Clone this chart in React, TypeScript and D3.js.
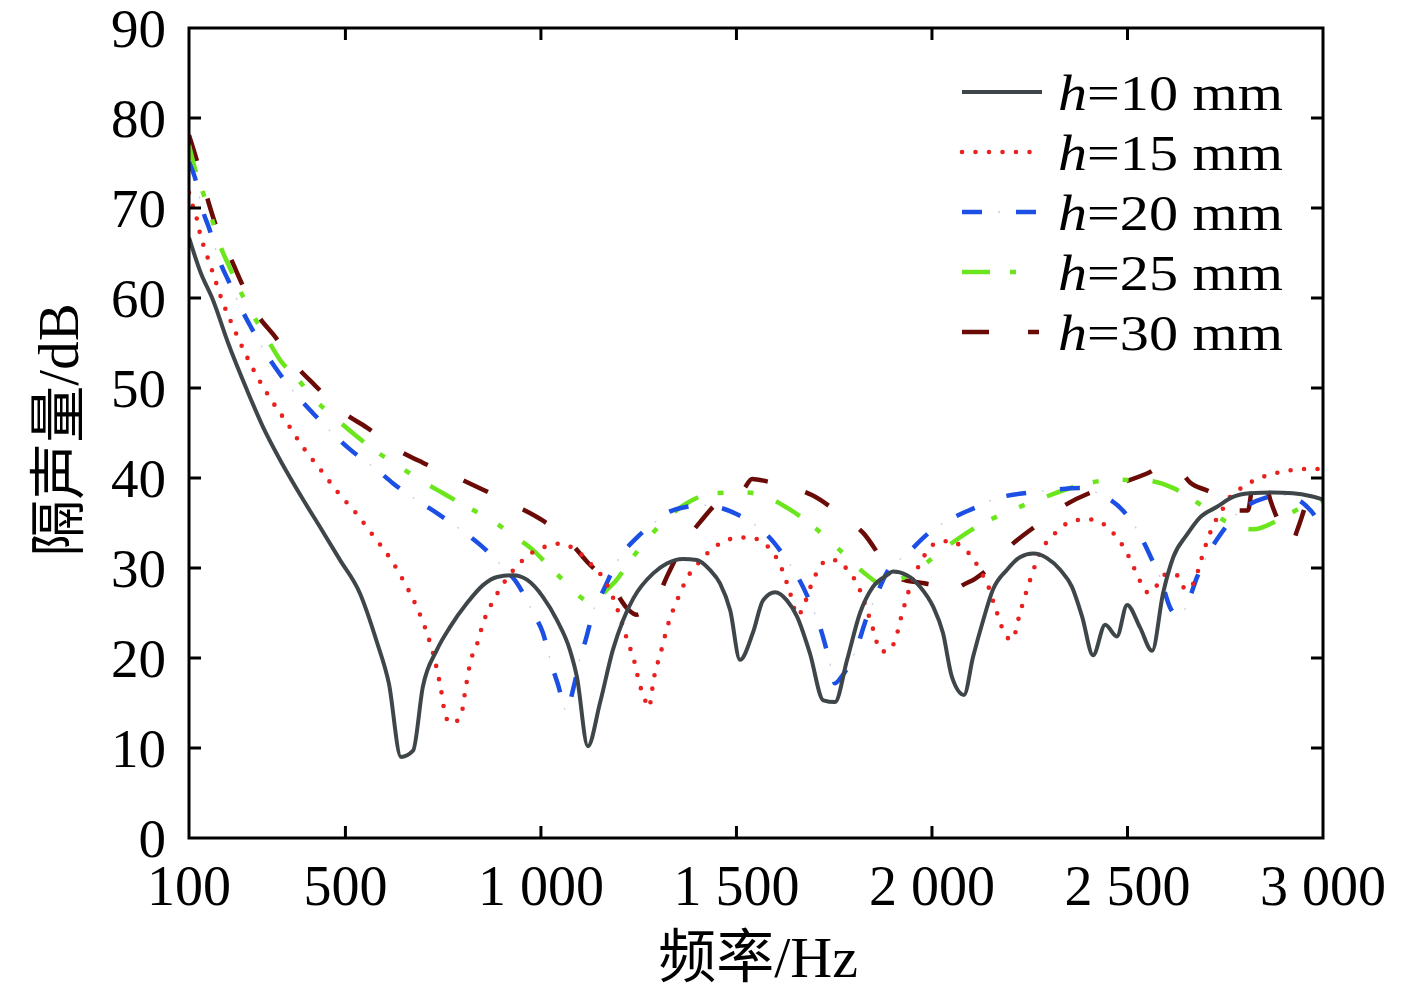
import React, { useEffect, useRef } from "react";
import * as d3 from "d3";

type Pt = [number, number];

// frequency (Hz), sound insulation (dB)
const h10: Pt[] = [
  [100, 66.7], [130, 62.8], [161, 59.8], [200, 55], [248, 49.8], [290, 45.6], [333, 42],
  [389, 37.8], [440, 34.2], [486, 30.9], [537, 27.2], [581, 21.7], [611, 17.2], [642, 9],
  [673, 9.7], [698, 16.8], [734, 20.9], [767, 23.4], [811, 26.1], [852, 28.1], [888, 29],
  [929, 29.2], [964, 28.7], [1005, 26.8], [1041, 24.2], [1074, 20.9], [1092, 17.9], [1120, 10.2],
  [1151, 15], [1184, 20.9], [1210, 24.2], [1236, 26.6], [1287, 29.4], [1322, 30.5], [1363, 31],
  [1399, 30.9], [1432, 29.8], [1458, 28.3], [1484, 25.3], [1509, 19.8], [1542, 22.8], [1568, 26.4],
  [1599, 27.3], [1629, 26.4], [1655, 24.6], [1688, 20.5], [1722, 15.3], [1752, 15.1], [1783, 19.8],
  [1816, 25], [1849, 27.9], [1885, 29.2], [1900, 29.6], [1936, 29.2], [1970, 27.9], [2003, 25.7],
  [2028, 22.8], [2051, 17.9], [2082, 15.9], [2105, 20.1], [2131, 24.2], [2156, 27.6], [2192, 29.8],
  [2225, 31.2], [2259, 31.6], [2294, 31.1], [2328, 29.8], [2358, 27.9], [2384, 24.6], [2412, 20.3],
  [2443, 23.7], [2473, 22.4], [2499, 25.9], [2532, 23.4], [2563, 20.8], [2591, 27.2], [2617, 31.2],
  [2652, 33.7], [2685, 35.6], [2729, 36.8], [2770, 37.9], [2813, 38.3], [2872, 38.4], [2923, 38.3],
  [2967, 38], [3000, 37.6],
];

const h15: Pt[] = [
  [100, 71.7], [110, 70.2], [120, 68.8], [128, 67.2], [138, 65.7], [150, 64.2], [161, 62.8],
  [184, 59.8], [212, 56.9], [241, 54.1], [274, 51.3], [310, 48.7], [351, 46.1], [392, 43.4],
  [435, 41], [481, 38.4], [527, 36.1], [571, 33.6], [614, 31.1], [652, 28.3], [683, 25.6],
  [709, 22.7], [729, 19.7], [744, 16.6], [757, 13.4], [773, 12.7], [796, 13.7], [808, 16.8],
  [821, 19.8], [834, 21.2], [854, 24.1], [885, 26.9], [903, 28.2], [947, 30.6], [977, 31.7],
  [1013, 32.4], [1049, 32.7], [1082, 32.2], [1133, 30.2], [1159, 28.9], [1190, 26.1], [1202, 24.6],
  [1223, 21.7], [1236, 20.1], [1253, 17], [1264, 15.6], [1276, 14.5], [1289, 17.8], [1307, 20.7],
  [1325, 23.7], [1351, 26.7], [1381, 29.4], [1404, 30.6], [1427, 31.7], [1461, 32.8], [1494, 33.3],
  [1530, 33.4], [1563, 33], [1588, 32], [1609, 30.6], [1634, 27.7], [1657, 24.7], [1670, 25.6],
  [1693, 28.3], [1709, 29.8], [1734, 30.9], [1762, 30.8], [1785, 29.7], [1808, 28.3], [1834, 25.3],
  [1855, 22.4], [1865, 20.9], [1885, 20.7], [1906, 22], [1924, 25], [1944, 27.9], [1957, 29.4],
  [1972, 30.7], [1990, 32], [2018, 32.9], [2051, 33], [2079, 32.2], [2105, 31.1], [2123, 29.7],
  [2141, 28.3], [2164, 25.3], [2190, 22.4], [2205, 22], [2225, 25], [2246, 28], [2269, 30.9],
  [2284, 32.3], [2305, 33.4], [2333, 34.6], [2366, 35.3], [2402, 35.4], [2438, 34.9], [2463, 33.9],
  [2486, 32.6], [2504, 31.2], [2519, 29.8], [2535, 28.3], [2555, 27.2], [2576, 28.1], [2601, 29.4],
  [2624, 29.3], [2642, 27.9], [2657, 27.6], [2675, 29], [2696, 32], [2721, 34.9], [2739, 36.2],
  [2757, 37.6], [2785, 38.7], [2818, 39.6], [2851, 40.2], [2885, 40.6], [2923, 40.9], [2959, 41],
  [3000, 41],
];

const h20: Pt[] = [
  [100, 75.1], [115, 73.4], [136, 69.6], [151, 67.8], [179, 64], [200, 62], [235, 58.7],
  [258, 56.8], [300, 53.6], [330, 51.7], [379, 49], [417, 47.2], [473, 44.7], [514, 43.1],
  [581, 40.9], [622, 39.4], [691, 37.3], [734, 36.1], [803, 34], [844, 32.6], [903, 30.1],
  [939, 28.3], [980, 25], [1005, 22.8], [1026, 19.4], [1044, 17], [1064, 14.2], [1085, 17],
  [1100, 20], [1113, 21.8], [1138, 25.7], [1156, 27.2], [1197, 30.9], [1246, 33.4], [1292, 35.1],
  [1322, 36.1], [1373, 36.8], [1414, 37], [1458, 36.7], [1500, 36], [1540, 35], [1573, 33.9],
  [1632, 30.7], [1657, 29], [1696, 25.4], [1714, 23.4], [1737, 19.8], [1752, 17.2], [1770, 18],
  [1790, 19.4], [1808, 21.2], [1834, 24.6], [1855, 26.7], [1893, 30.1], [1926, 31.2], [1995, 34],
  [2033, 35.1], [2115, 36.8], [2156, 37.6], [2251, 38.4], [2294, 38.6], [2379, 38.9], [2425, 38.3],
  [2494, 36.1], [2525, 34.2], [2563, 30.9], [2584, 28.9], [2609, 25.6], [2624, 24.8], [2645, 25.3],
  [2678, 29], [2698, 30.9], [2742, 34], [2770, 35.6], [2852, 37.8], [2898, 38.1], [2940, 37.5],
  [2972, 36.2], [3000, 34.4],
];

const h25: Pt[] = [
  [100, 77], [115, 74.4], [136, 71.7], [159, 68.7], [179, 65.9], [205, 63.3], [233, 60.6],
  [264, 58.1], [302, 55.3], [333, 53.1], [376, 51.1], [422, 48.7], [473, 46.7], [524, 44.8],
  [581, 42.9], [640, 41.2], [698, 39.6], [750, 38.3], [811, 36.8], [875, 35.3], [929, 33.6],
  [977, 32.1], [1023, 30.1], [1074, 27.9], [1100, 26.8], [1130, 26.2], [1141, 26.4], [1169, 27.6],
  [1190, 28.5], [1228, 30.8], [1274, 33.3], [1322, 35.5], [1373, 37.2], [1440, 38.3], [1517, 38.4],
  [1578, 37.9], [1629, 36.7], [1683, 35.1], [1734, 33.2], [1786, 31.1], [1834, 29.2], [1867, 28.3],
  [1900, 28.3], [1918, 28.7], [1962, 29.8], [2039, 32.4], [2123, 34.8], [2192, 36.2], [2284, 37.8],
  [2379, 39.2], [2463, 39.8], [2550, 39.7], [2616, 38.9], [2642, 38.3], [2698, 36.7], [2755, 35.1],
  [2822, 34.3], [2885, 35.3], [2949, 36.8], [3000, 37.5],
];

const h30: Pt[] = [
  [100, 78.1], [120, 75.3], [146, 71.2], [166, 68.4], [205, 64.6], [233, 61.8], [276, 58.1],
  [320, 55.7], [371, 52.6], [422, 50.3], [494, 47.3], [555, 45.6], [635, 43.1], [698, 41.7],
  [788, 40], [852, 38.7], [941, 36.8], [1000, 35.4], [1069, 33.1], [1118, 30.7], [1184, 27.8],
  [1223, 25.4], [1245, 24.8], [1270, 25.5], [1297, 26.7], [1325, 29.3], [1368, 32.9], [1407, 35.1],
  [1450, 37.2], [1491, 38.3], [1515, 38.6], [1540, 39.9], [1580, 39.6], [1637, 39], [1693, 38.1],
  [1773, 35.7], [1824, 33.9], [1888, 30.1], [1926, 28.7], [1980, 28.3], [2026, 27.8], [2051, 27.1],
  [2072, 27.9], [2110, 28.8], [2149, 30.1], [2192, 32.1], [2276, 35], [2333, 36.8], [2425, 38.7],
  [2494, 39.6], [2550, 40.5], [2591, 41.3], [2630, 40.9], [2660, 39.5], [2716, 38.3], [2762, 36.4],
  [2808, 36.4], [2821, 39.4], [2847, 40.3], [2865, 37.6], [2898, 34.2], [2921, 32.8], [2934, 34.2],
  [2967, 38.3], [2985, 39.8], [3000, 40],
];

const thicknesses = ["10", "15", "20", "25", "30"];
const xTickValues = [500, 1000, 1500, 2000, 2500];
const xLabelValues = [100, 500, 1000, 1500, 2000, 2500, 3000];
const yTickValues = [10, 20, 30, 40, 50, 60, 70, 80];
const yLabelValues = [0, 10, 20, 30, 40, 50, 60, 70, 80, 90];

const App: React.FC = () => {
  const svgRef = useRef<SVGSVGElement | null>(null);

  useEffect(() => {
    const svg = d3.select(svgRef.current);
    svg.selectAll("*").remove();

    const width = 1417;
    const height = 992;
    const margin = { top: 28, right: 94, bottom: 154, left: 189 };
    const serif = "'Liberation Serif', 'Times New Roman', serif";
    const cjk = "'Liberation Serif', 'Noto Sans CJK SC', serif";

    const x = d3
      .scaleLinear()
      .domain([100, 3000])
      .range([margin.left, width - margin.right]);
    const y = d3
      .scaleLinear()
      .domain([0, 90])
      .range([height - margin.bottom, margin.top]);

    const x0 = x.range()[0];
    const x1 = x.range()[1];
    const y0 = y.range()[0];
    const y1 = y.range()[1];

    svg
      .append("rect")
      .attr("width", width)
      .attr("height", height)
      .attr("fill", "white");

    svg
      .append("defs")
      .append("clipPath")
      .attr("id", "plot-clip")
      .append("rect")
      .attr("x", x0)
      .attr("y", y1)
      .attr("width", x1 - x0)
      .attr("height", y0 - y1);

    const styles = [
      { data: h10, color: "#3f4649", w: 4, dash: "none", cap: "butt", legendEnd: 1042 },
      { data: h15, color: "#e8211f", w: 4.6, dash: "0 13.5", cap: "round", legendEnd: 1036 },
      { data: h20, color: "#1c4fe3", w: 4.5, dash: "20 34", cap: "butt", legendEnd: 1037 },
      { data: h25, color: "#6be61c", w: 4.5, dash: "28 20 6 24 6 24", cap: "butt", legendEnd: 1036 },
      { data: h30, color: "#6b0b08", w: 4.5, dash: "27 39", cap: "butt", legendEnd: 1039 },
    ];

    const line = d3
      .line<Pt>()
      .x((d) => x(d[0]))
      .y((d) => y(d[1]))
      .curve(d3.curveMonotoneX);

    const plot = svg.append("g").attr("clip-path", "url(#plot-clip)");

    // draw from the last series to the first so the solid line sits on top
    [...styles].reverse().forEach((s) => {
      plot
        .append("path")
        .attr("d", line(s.data))
        .attr("fill", "none")
        .attr("stroke", s.color)
        .attr("stroke-width", s.w)
        .attr("stroke-dasharray", s.dash)
        .attr("stroke-linecap", s.cap)
        .attr("stroke-linejoin", "round");
      if (s.data === h20) {
        // faint dots between the blue dashes
        plot
          .append("path")
          .attr("d", line(s.data))
          .attr("fill", "none")
          .attr("stroke", "#c5cde6")
          .attr("stroke-width", 1.3)
          .attr("stroke-dasharray", "2 52")
          .attr("stroke-dashoffset", -36);
      }
    });

    // frame
    svg
      .append("rect")
      .attr("x", x0)
      .attr("y", y1)
      .attr("width", x1 - x0)
      .attr("height", y0 - y1)
      .attr("fill", "none")
      .attr("stroke", "black")
      .attr("stroke-width", 3);

    const tickLen = 12;
    const ticks = svg.append("g").attr("stroke", "black").attr("stroke-width", 3);
    xTickValues.forEach((v) => {
      ticks.append("line").attr("x1", x(v)).attr("x2", x(v)).attr("y1", y0).attr("y2", y0 - tickLen);
      ticks.append("line").attr("x1", x(v)).attr("x2", x(v)).attr("y1", y1).attr("y2", y1 + tickLen);
    });
    yTickValues.forEach((v) => {
      ticks.append("line").attr("x1", x0).attr("x2", x0 + tickLen).attr("y1", y(v)).attr("y2", y(v));
      ticks.append("line").attr("x1", x1).attr("x2", x1 - tickLen).attr("y1", y(v)).attr("y2", y(v));
    });

    const fmt = d3.formatLocale({
      decimal: ".",
      thousands: " ",
      grouping: [3],
      currency: ["", ""],
    }).format(",");

    svg
      .append("g")
      .selectAll("text")
      .data(xLabelValues)
      .enter()
      .append("text")
      .attr("x", (d) => x(d))
      .attr("y", 905)
      .attr("text-anchor", "middle")
      .style("font-family", serif)
      .style("font-size", "56px")
      .text((d) => fmt(d));

    svg
      .append("g")
      .selectAll("text")
      .data(yLabelValues)
      .enter()
      .append("text")
      .attr("x", 166)
      .attr("y", (d) => y(d))
      .attr("dy", "0.34em")
      .attr("text-anchor", "end")
      .style("font-family", serif)
      .style("font-size", "55px")
      .text((d) => d);

    // axis titles
    svg
      .append("text")
      .attr("x", 758)
      .attr("y", 977)
      .attr("text-anchor", "middle")
      .style("font-family", cjk)
      .style("font-size", "58px")
      .text("频率/Hz");

    svg
      .append("text")
      .attr("transform", "translate(78,430) rotate(-90)")
      .attr("text-anchor", "middle")
      .style("font-family", cjk)
      .style("font-size", "57px")
      .text("隔声量/dB");

    // legend
    const legend = svg.append("g");
    styles.forEach((s, i) => {
      const ly = 92 + i * 60;
      legend
        .append("line")
        .attr("x1", 962)
        .attr("x2", s.legendEnd)
        .attr("y1", ly)
        .attr("y2", ly)
        .attr("stroke", s.color)
        .attr("stroke-width", s.w)
        .attr("stroke-dasharray", s.dash)
        .attr("stroke-linecap", s.cap);
      if (s.data === h20) {
        legend
          .append("line")
          .attr("x1", 962)
          .attr("x2", s.legendEnd)
          .attr("y1", ly)
          .attr("y2", ly)
          .attr("stroke", "#c5cde6")
          .attr("stroke-width", 1.3)
          .attr("stroke-dasharray", "2 52")
          .attr("stroke-dashoffset", -36);
      }
      const t = legend
        .append("text")
        .attr("x", 1058)
        .attr("y", ly + 18)
        .attr("textLength", 225)
        .attr("lengthAdjust", "spacingAndGlyphs")
        .style("font-family", serif)
        .style("font-size", "50px");
      t.append("tspan").style("font-style", "italic").text("h");
      t.append("tspan").text(`=${thicknesses[i]} mm`);
    });
  }, []);

  return (
    <svg
      ref={svgRef}
      width={1417}
      height={992}
      style={{ position: "absolute", left: 0, top: 0 }}
    ></svg>
  );
};

export default App;
